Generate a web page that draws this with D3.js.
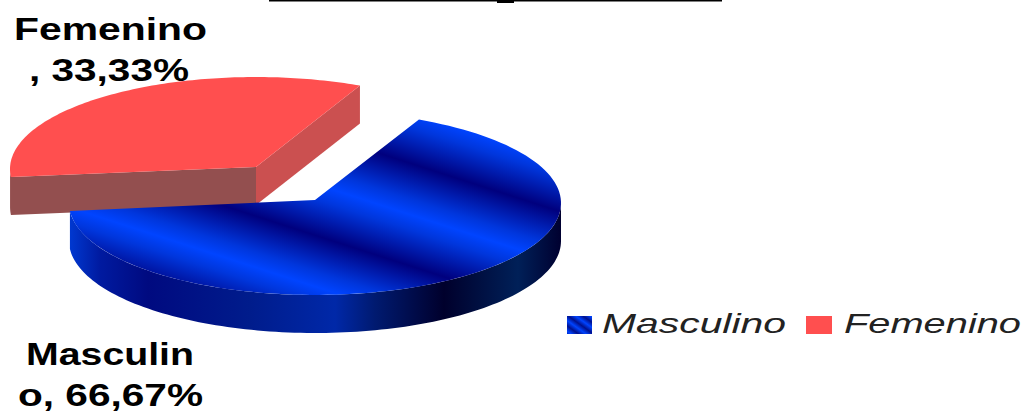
<!DOCTYPE html>
<html><head><meta charset="utf-8">
<script src="https://cdn.jsdelivr.net/npm/d3@7"></script>
<style>html,body{margin:0;padding:0;background:#fff}svg{display:block}</style>
</head><body><svg id="c" width="1029" height="412"></svg>
<script>
const categories = ["Masculino", "Femenino"];
const values = [66.67, 33.33];
const labelLines = [["Masculin", "o, 66,67%"], ["Femenino", ", 33,33%"]];

const svg = d3.select("#c");
const defs = svg.append("defs");
const rx = 246, ry = 92, depth = 38;
const centers = [{ax:315, ay:200, ey:203}, {ax:256, ay:167, ey:169}];
const startDeg = 25;

const pie = d3.pie().sort(null).startAngle(startDeg*Math.PI/180).endAngle((startDeg+360)*Math.PI/180);
const arcs = pie(values);

const stripe = defs.append("linearGradient").attr("id","stripe").attr("gradientUnits","userSpaceOnUse")
  .attr("x1",334).attr("y1",190).attr("x2",364).attr("y2",97).attr("spreadMethod","repeat");
[[0,"#0044ff"],[0.15,"#0036dc"],[0.5,"#00007e"],[0.85,"#0036dc"],[1,"#0044ff"]].forEach(s=>stripe.append("stop").attr("offset",s[0]).attr("stop-color",s[1]));
const wall = defs.append("linearGradient").attr("id","wall").attr("gradientUnits","userSpaceOnUse")
  .attr("x1",70).attr("y1",0).attr("x2",561).attr("y2",0);
[[70,"#0038d0"],[100,"#001aa0"],[148,"#000a80"],[250,"#001c8c"],[335,"#0028a8"],[375,"#001a70"],[444,"#00002c"],[518,"#002058"],[561,"#000030"]]
  .forEach(s=>wall.append("stop").attr("offset",(s[0]-70)/491).attr("stop-color",s[1]));
const sw = defs.append("linearGradient").attr("id","swatch").attr("gradientUnits","userSpaceOnUse")
  .attr("x1",0).attr("y1",0).attr("x2",5).attr("y2",-7).attr("spreadMethod","repeat");
[[0,"#0044ff"],[0.5,"#00108e"],[1,"#0044ff"]].forEach(s=>sw.append("stop").attr("offset",s[0]).attr("stop-color",s[1]));

const pt = (c,t) => [c.ax + rx*Math.sin(t), c.ey - ry*Math.cos(t)];
function topPath(c,a){
  const p = d3.path(); p.moveTo(c.ax,c.ay);
  d3.range(0,121).forEach(i=>{const q=pt(c,a.startAngle+(a.endAngle-a.startAngle)*i/120);p.lineTo(q[0],q[1]);});
  p.closePath(); return p.toString();
}
function outerWall(c,a){
  const lo=Math.max(a.startAngle,Math.PI/2), hi=Math.min(a.endAngle,1.5*Math.PI);
  if(hi<=lo) return null;
  const top=d3.range(0,121).map(i=>pt(c,lo+(hi-lo)*i/120));
  const bot=top.slice().reverse().map(q=>[q[0],q[1]+depth]);
  return d3.line()(top.concat(bot))+"Z";
}
function quad(c,q){ return d3.line()([[c.ax,c.ay],q,[q[0],q[1]+depth],[c.ax,c.ay+depth]])+"Z"; }

{
  const c=centers[1], a=arcs[1];
  const w=outerWall(c,a);
  svg.append("path").attr("d",quad(c,pt(c,a.endAngle))).attr("fill","#cb5050");
  if(w) svg.append("path").attr("d",w).attr("fill","#934f4f");
  svg.append("path").attr("d",quad(c,pt(c,a.startAngle))).attr("fill","#934f4f");
  svg.append("path").attr("d",topPath(c,a)).attr("fill","#ff4f4f");
}
{
  const c=centers[0], a=arcs[0];
  svg.append("path").attr("d",outerWall(c,a)).attr("fill","url(#wall)");
  svg.append("path").attr("d",topPath(c,a)).attr("fill","url(#stripe)");
}

svg.append("rect").attr("x",269).attr("y",0).attr("width",453).attr("height",1.5).attr("fill","#000");
svg.append("rect").attr("x",497).attr("y",0).attr("width",17).attr("height",3).attr("fill","#000");

const lab = [
  {x:[26,18], y:[365,406], w:[168,185]},
  {x:[14,29], y:[40,81], w:[193,160]}
];
labelLines.forEach((ls,i)=>ls.forEach((t,j)=>{
  svg.append("text").attr("x",lab[i].x[j]).attr("y",lab[i].y[j]).text(t)
    .attr("font-family","'Liberation Sans',sans-serif").attr("font-weight","bold").attr("font-size",32)
    .attr("textLength",lab[i].w[j]).attr("lengthAdjust","spacingAndGlyphs").attr("fill","#000");
}));

const legend = [{sx:567,sw:25,tx:602,tw:184,fill:"url(#swatch)"},{sx:806,sw:26,tx:844,tw:177,fill:"#ff4f4f"}];
categories.forEach((t,i)=>{
  const l=legend[i];
  const g=svg.append("g");
  g.append("rect").attr("x",l.sx).attr("y",316).attr("width",l.sw).attr("height",18).attr("fill",l.fill);
  g.append("text").attr("x",l.tx).attr("y",333).text(t)
    .attr("font-family","'Liberation Sans',sans-serif").attr("font-style","italic").attr("font-size",28)
    .attr("textLength",l.tw).attr("lengthAdjust","spacingAndGlyphs").attr("fill","#222");
});
</script></body></html>
